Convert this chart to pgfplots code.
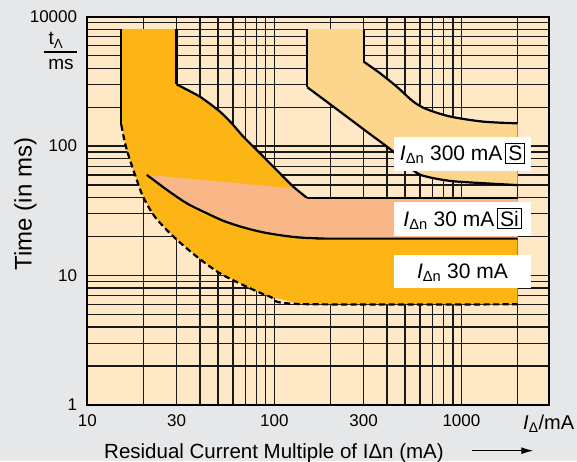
\documentclass[border=0pt]{standalone}
\usepackage{pgfplots}
\pgfplotsset{compat=1.18}
\usepackage{fontspec}
\setmainfont{Liberation Sans}
\usetikzlibrary{arrows.meta}
\definecolor{pagebg}{HTML}{E6E7E9}
\definecolor{cream}{HTML}{FEE8C6}
\definecolor{orng}{HTML}{FDB515}
\definecolor{salmon}{HTML}{F9B787}
\definecolor{lightor}{HTML}{FDD68E}
\begin{document}
\begin{tikzpicture}[x=1pt,y=1pt]
\fill[pagebg] (-87.3,-56) rectangle (489.7,405);
\begin{axis}[
  at={(0,0)}, anchor=south west,
  scale only axis, width=462pt, height=388.3pt,
  xmode=log, ymode=log,
  xmin=10, xmax=2950, ymin=1, ymax=1000,
  axis background/.style={fill=cream},
  grid=both,
  major grid style={draw=black!90, line width=1.35pt},
  minor grid style={draw=black!90, line width=1.35pt},
  axis line style={line width=2pt},
  tick style={draw=none},
  major tick length=0pt, minor tick length=0pt,
  xtick={10,30,100,300,1000}, xticklabels={10,30,100,300,1000},
  ytick={1,10,100,1000}, yticklabels={1,10,100,10000},
  minor xtick={20,40,50,60,70,80,90,200,400,500,600,700,800,900,2000},
  minor ytick={2,3,4,5,6,7,8,9,20,30,40,50,60,70,80,90,200,300,400,500,600,700,800,900},
  /pgf/number format/assume math mode=true,
  tick label style={font=\fontsize{17}{20}\selectfont},
  xticklabel style={inner sep=0pt, yshift=-9pt},
  yticklabel style={inner sep=0pt, xshift=-10pt},
]
% IΔn 30 mA region
\addplot[fill=orng, draw=none] coordinates {
(15.2,800) (30,800) (30,300) (40,241) (51.2,184.7) (59.2,150) (68.2,118.4) (80.4,93.5) (98.7,69.4) (126.3,48.6) (149,40) (2000,40) (2000,6) (137,6.03) (94.8,6.87) (71.1,8.21) (51.2,10.4) (38.5,14.0) (29.0,19.9) (23.0,28.4) (19.9,40.5) (18.4,54.8) (16.9,78.2) (15.9,105.9) (15.2,146)
} -- cycle;
% Si region
\addplot[fill=salmon, draw=none] coordinates {
(20.8,60) (129.6,47.1) (149,40) (2000,40) (2000,19.3) (205,19.3) (170.6,19.4) (135.5,19.7) (107.6,20.5) (85.5,21.7) (68.0,23.6) (54.0,26.3) (42.9,30.6) (34.0,36.2) (26.6,46.0)
} -- cycle;
% S region
\addplot[fill=lightor, draw=none] coordinates {
(150,800) (300,800) (300,450) (367,366) (451,288) (553,221) (652,193) (876,169) (1309,154.6) (2000,150) (2000,50) (1309,51.7) (876,53.8) (652,58.1) (565,63.5) (432,90.7) (311.6,129.5) (206.6,202) (150,285)
} -- cycle;
% outlines
\addplot[black, line width=2.2pt] coordinates {(15.2,800) (15.2,146)};
\addplot[black, line width=2.2pt, smooth, tension=0.5, dash pattern=on 6pt off 3.5pt] coordinates {
(15.2,146) (15.9,105.9) (16.9,78.2) (18.4,54.8) (19.9,40.5) (23.0,28.4) (29.0,19.9) (38.5,14.0) (51.2,10.4) (71.1,8.21) (94.8,6.87) (137,6.03) (2000,6)};
\addplot[black, line width=2.2pt] coordinates {(30,800) (30,300)};
\addplot[black, line width=2.2pt, smooth, tension=0.4] coordinates {
(30,300) (40,241) (51.2,184.7) (59.2,150) (68.2,118.4) (80.4,93.5) (98.7,69.4) (126.3,48.6) (149,40)};
\addplot[black, line width=2.2pt] coordinates {(149,40) (2000,40)};
\addplot[black, line width=2.2pt, smooth, tension=0.5] coordinates {
(20.8,60) (26.6,46.0) (34.0,36.2) (42.9,30.6) (54.0,26.3) (68.0,23.6) (85.5,21.7) (107.6,20.5) (135.5,19.7) (170.6,19.4) (205,19.3) (2000,19.3)};
\addplot[black, line width=2.2pt] coordinates {(150,800) (150,285)};
\addplot[black, line width=2.2pt, smooth, tension=0.5] coordinates {
(150,285) (206.6,202) (311.6,129.5) (432,90.7) (565,63.5) (652,58.1) (876,53.8) (1309,51.7) (2000,50)};
\addplot[black, line width=2.2pt] coordinates {(300,800) (300,450)};
\addplot[black, line width=2.2pt, smooth, tension=0.5] coordinates {
(300,450) (367,366) (451,288) (553,221) (652,193) (876,169) (1309,154.6) (2000,150)};
\end{axis}
% label boxes
\fill[white] (307,234.3) rectangle (443.4,268.3);
\fill[white] (307,169.3) rectangle (443.4,202.7);
\fill[white] (307,116.7) rectangle (443.4,150);
\setlength{\fboxsep}{2pt}\setlength{\fboxrule}{0.8pt}
\node[anchor=base, inner sep=0pt, font=\fontsize{21}{25}\selectfont] at (375.2,244.3) {\textit{I}\textsubscript{Δn} 300 mA\kern3pt\fbox{S}};
\node[anchor=base, inner sep=0pt, font=\fontsize{21}{25}\selectfont] at (375.2,179) {\textit{I}\textsubscript{Δn} 30 mA\kern3pt\fbox{Si}};
\node[anchor=base, inner sep=0pt, font=\fontsize{21}{25}\selectfont] at (375.2,126.3) {\textit{I}\textsubscript{Δn} 30 mA};
% t / ms
\node[anchor=base, inner sep=0pt, font=\fontsize{19}{22}\selectfont] at (-31.3,360) {t\textsubscript{Λ}};
\draw[line width=1.3pt] (-43.3,353) -- (-10.3,353);
\node[anchor=base, inner sep=0pt, font=\fontsize{19}{22}\selectfont] at (-26.3,335) {ms};
% axis labels
\node[rotate=90, anchor=base, inner sep=0pt, font=\fontsize{24}{28}\selectfont] at (-55.6,201) {Time (in ms)};
\node[anchor=base, inner sep=0pt, font=\fontsize{20.5}{24}\selectfont] at (186.7,-53) {Residual Current Multiple of IΔn (mA)};
\node[anchor=base west, inner sep=0pt, font=\fontsize{20}{24}\selectfont] at (435.7,-24) {\textit{I}\textsubscript{Δ}/mA};
\draw[line width=1.2pt, -{Latex[length=12pt,width=7pt]}] (384.4,-45.7) -- (446,-45.7);
\pgfresetboundingbox
\path (-87.3,-56) rectangle (489.7,405);
\end{tikzpicture}
\end{document}
